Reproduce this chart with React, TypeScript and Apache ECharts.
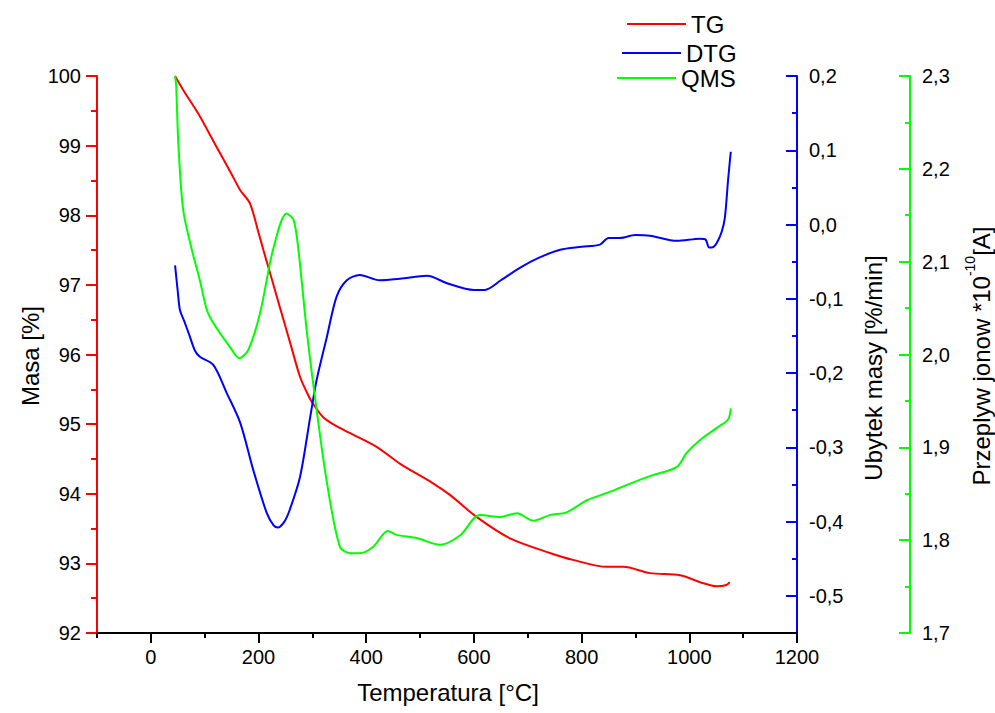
import React, { useEffect, useRef } from 'react';
import * as echarts from 'echarts';

const tgTemps = [45, 60, 88, 120, 150, 166, 184, 200, 209, 221, 234, 247, 259, 277, 290, 299, 320, 345, 370, 420, 463, 524, 556, 606, 667, 741, 784, 847, 877, 927, 983, 1020, 1051, 1069, 1075];
const tgValues = [100, 99.8, 99.46, 99.01, 98.59, 98.36, 98.17, 97.75, 97.5, 97.18, 96.83, 96.48, 96.16, 95.68, 95.45, 95.32, 95.1, 94.97, 94.87, 94.67, 94.43, 94.15, 93.98, 93.66, 93.36, 93.15, 93.05, 92.95, 92.95, 92.86, 92.83, 92.73, 92.67, 92.69, 92.73];

const dtgTemps = [45, 50, 54, 62, 72, 82, 91, 116, 141, 166, 190, 215, 228, 236, 248, 258, 277, 296, 308, 327, 345, 364, 388, 425, 463, 513, 550, 600, 620, 650, 686, 720, 760, 800, 834, 850, 871, 900, 927, 977, 1020, 1030, 1037, 1045, 1051, 1060, 1066, 1072, 1077];
const dtgValues = [-0.055, -0.09, -0.115, -0.13, -0.15, -0.17, -0.178, -0.189, -0.227, -0.267, -0.33, -0.388, -0.405, -0.408, -0.4, -0.384, -0.34, -0.259, -0.209, -0.151, -0.097, -0.075, -0.068, -0.075, -0.073, -0.069, -0.079, -0.088, -0.088, -0.075, -0.058, -0.045, -0.034, -0.03, -0.027, -0.018, -0.018, -0.014, -0.015, -0.022, -0.019, -0.02, -0.031, -0.03, -0.025, -0.01, 0.009, 0.06, 0.098];

const qmsTemps = [45, 47, 51, 60, 76, 91, 104, 116, 147, 164, 181, 203, 227, 252, 265, 274, 290, 308, 327, 351, 370, 388, 413, 440, 455, 495, 537, 574, 611, 649, 680, 710, 741, 772, 810, 852, 895, 932, 977, 995, 1020, 1051, 1072, 1077];
const qmsValues = [2.3, 2.29, 2.228, 2.156, 2.113, 2.08, 2.048, 2.034, 2.008, 1.996, 2.005, 2.045, 2.113, 2.152, 2.145, 2.113, 2.023, 1.94, 1.862, 1.793, 1.786, 1.786, 1.793, 1.81, 1.806, 1.802, 1.795, 1.805, 1.827, 1.825, 1.829, 1.821, 1.827, 1.83, 1.843, 1.852, 1.862, 1.87, 1.879, 1.894, 1.908, 1.921, 1.93, 1.942];

const xMajorTicks = [0, 200, 400, 600, 800, 1000, 1200];
const dtgMajorTicks = [-0.5, -0.4, -0.3, -0.2, -0.1, 0, 0.1, 0.2];
const dtgMinorTicks = [-0.45, -0.35, -0.25, -0.15, -0.05, 0.05, 0.15];

const FONT = 'Liberation Sans, Arial, sans-serif';
const RED = '#ff0000';
const BLUE = '#0000ff';
const GREEN = '#00ff00';

const zip = (xs: number[], ys: number[]) => xs.map((x, i) => [x, ys[i]]);
const comma = (v: number) => (Math.abs(v) < 1e-9 ? 0 : v).toFixed(1).replace('.', ',');

export default function App() {
  const ref = useRef<HTMLDivElement>(null);
  useEffect(() => {
    if (!ref.current) return;
    const chart = echarts.init(ref.current, null, { renderer: 'svg' });
    const labelStyle = { color: '#000', fontSize: 20, fontFamily: FONT };
    const legendBase = {
      orient: 'horizontal',
      icon: 'rect',
      itemWidth: 59,
      itemHeight: 2,
      textStyle: { color: '#000', fontSize: 24, fontFamily: FONT },
      padding: 0,
    };
    chart.setOption({
      animation: false,
      backgroundColor: '#fff',
      textStyle: { fontFamily: FONT },
      grid: { left: 97, right: 198, top: 76, bottom: 80, containLabel: false },
      legend: [
        { ...legendBase, data: [{ name: 'TG' }], left: 627, top: 12 },
        { ...legendBase, data: [{ name: 'DTG' }], left: 622, top: 41 },
        { ...legendBase, data: [{ name: 'QMS' }], left: 617, top: 66 },
      ],
      xAxis: [
        {
          type: 'value', min: -100, max: 1200, position: 'bottom',
          axisLine: { show: true, onZero: false, lineStyle: { color: '#000', width: 2 } },
          axisTick: { show: true, customValues: xMajorTicks, length: 10, lineStyle: { color: '#000', width: 2 } },
          axisLabel: { ...labelStyle, customValues: xMajorTicks, margin: 14, formatter: (v: number) => String(v) },
          splitLine: { show: false },
        },
        {
          type: 'value', min: -100, max: 1200, interval: 100, position: 'bottom',
          axisLine: { show: false, onZero: false },
          axisTick: { show: true, length: 5, lineStyle: { color: '#000', width: 2 } },
          axisLabel: { show: false },
          splitLine: { show: false },
        },
      ],
      yAxis: [
        {
          type: 'value', min: 92, max: 100, interval: 1, position: 'left',
          axisLine: { show: true, onZero: false, lineStyle: { color: RED, width: 2 } },
          axisTick: { show: true, length: 11, lineStyle: { color: RED, width: 2 } },
          minorTick: { show: true, splitNumber: 2, length: 6, lineStyle: { color: RED, width: 2 } },
          axisLabel: { ...labelStyle, margin: 16 },
          splitLine: { show: false },
        },
        {
          type: 'value', min: -0.55, max: 0.2, position: 'right', offset: 0,
          axisLine: { show: true, onZero: false, lineStyle: { color: BLUE, width: 2 } },
          axisTick: { show: true, inside: true, customValues: dtgMajorTicks, length: 11, lineStyle: { color: BLUE, width: 2 } },
          axisLabel: { ...labelStyle, customValues: dtgMajorTicks, margin: 12, formatter: (v: number) => comma(v) },
          splitLine: { show: false },
        },
        {
          type: 'value', min: -0.55, max: 0.2, position: 'right', offset: 0,
          axisLine: { show: false, onZero: false },
          axisTick: { show: true, inside: true, customValues: dtgMinorTicks, length: 5, lineStyle: { color: BLUE, width: 2 } },
          axisLabel: { show: false, customValues: dtgMinorTicks },
          splitLine: { show: false },
        },
        {
          type: 'value', min: 1.7, max: 2.3, interval: 0.1, position: 'right', offset: 113,
          axisLine: { show: true, onZero: false, lineStyle: { color: GREEN, width: 2 } },
          axisTick: { show: true, inside: true, length: 11, lineStyle: { color: GREEN, width: 2 } },
          minorTick: { show: true, splitNumber: 2, length: 5, lineStyle: { color: GREEN, width: 2 } },
          axisLabel: { ...labelStyle, margin: 12, formatter: (v: number) => comma(v) },
          splitLine: { show: false },
        },
      ],
      graphic: [
        {
          type: 'text', x: 30, y: 356, rotation: Math.PI / 2,
          style: { text: 'Masa [%]', fontSize: 24, fontFamily: FONT, fill: '#000', align: 'center', verticalAlign: 'middle' },
        },
        {
          type: 'text', x: 873, y: 368, rotation: Math.PI / 2,
          style: { text: 'Ubytek masy [%/min]', fontSize: 24, fontFamily: FONT, fill: '#000', align: 'center', verticalAlign: 'middle' },
        },
        {
          type: 'text', x: 978, y: 356, rotation: Math.PI / 2,
          style: {
            text: '{a|Przeplyw jonow *10}{s|-10}{a|[A]}',
            fontFamily: FONT, fill: '#000', align: 'center', verticalAlign: 'middle',
            rich: {
              a: { fontSize: 24, fontFamily: FONT, fill: '#000', lineHeight: 30, verticalAlign: 'bottom' },
              s: { fontSize: 14, fontFamily: FONT, fill: '#000', lineHeight: 30, verticalAlign: 'top' },
            },
          },
        },
        {
          type: 'text', x: 448, y: 692,
          style: { text: 'Temperatura [°C]', fontSize: 24, fontFamily: FONT, fill: '#000', align: 'center', verticalAlign: 'middle' },
        },
      ],
      series: [
        {
          type: 'line', name: 'TG', data: zip(tgTemps, tgValues), xAxisIndex: 0, yAxisIndex: 0,
          showSymbol: false, smooth: 0.3, lineStyle: { color: RED, width: 2 }, itemStyle: { color: RED },
        },
        {
          type: 'line', name: 'DTG', data: zip(dtgTemps, dtgValues), xAxisIndex: 0, yAxisIndex: 1,
          showSymbol: false, smooth: 0.3, lineStyle: { color: BLUE, width: 2 }, itemStyle: { color: BLUE },
        },
        {
          type: 'line', name: 'QMS', data: zip(qmsTemps, qmsValues), xAxisIndex: 0, yAxisIndex: 3,
          showSymbol: false, smooth: 0.3, lineStyle: { color: GREEN, width: 2 }, itemStyle: { color: GREEN },
        },
      ],
    });
    return () => chart.dispose();
  }, []);
  return <div ref={ref} style={{ position: 'fixed', left: 0, top: 0, width: 995, height: 713 }} />;
}
